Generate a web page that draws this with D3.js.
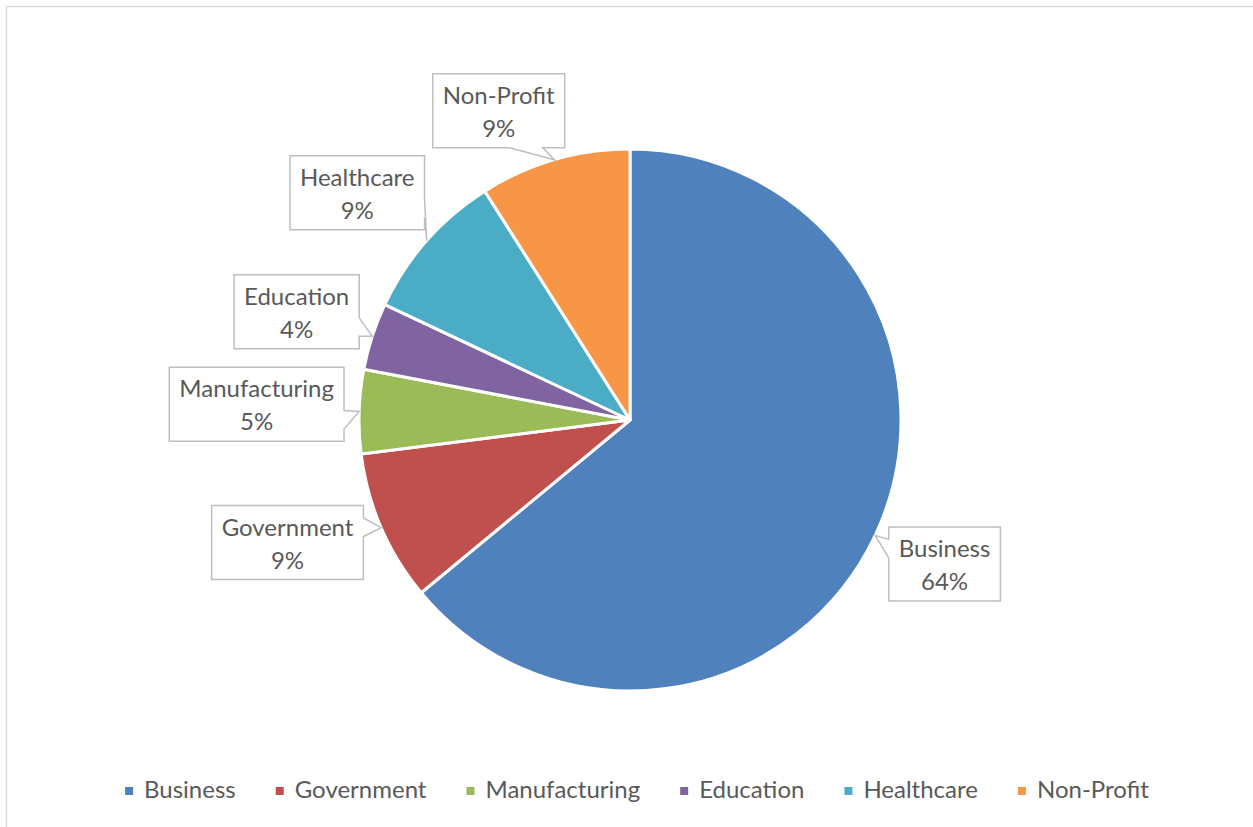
<!DOCTYPE html>
<html>
<head>
<meta charset="utf-8">
<script src="https://cdn.jsdelivr.net/npm/d3@7"></script>
<style>
  html, body { margin: 0; padding: 0; background: #fff; }
  svg { display: block; }
</style>
</head>
<body>
<svg id="chart" width="1253" height="827"></svg>
<script>
// Share of respondents by sector (percent)
const categories = ["Business", "Government", "Manufacturing", "Education", "Healthcare", "Non-Profit"];
const shares = [64, 9, 5, 4, 9, 9];
const sliceColors = ["#4F81BD", "#C0504D", "#9BBB59", "#8064A2", "#4BACC6", "#F79646"];

const W = 1253, H = 827;
const cx = 630, cy = 420, radius = 271;
const textColor = "#595959";
const fontFamily = "Lato, 'Open Sans', sans-serif";
const labelFont = 24;
const labelGap = 9;          // clearance between callout box and pie edge
const boxPadX = 10, boxH = 74;
// small per-label adjustments of the callout placement (degrees / px)
const labelNudge = {
  "Non-Profit": { da: -6.8, dr: 0 },
  "Government": { da: 3.7, dr: 0 },
  "Manufacturing": { da: 0.6, dr: 6 },
  "Healthcare": { da: -1.6, dr: 0 },
  "Business": { da: -0.6, dr: 0 }
};

const svg = d3.select("#chart");

// chart area outline
svg.append("rect")
  .attr("x", 6.5).attr("y", 6.5)
  .attr("width", W + 50).attr("height", H + 50)
  .attr("fill", "#fff")
  .attr("stroke", "#D9D9D9")
  .attr("stroke-width", 1.3);

const color = d3.scaleOrdinal().domain(categories).range(sliceColors);

const data = categories.map((c, i) => ({ name: c, value: shares[i] }));
const pie = d3.pie().sort(null).value(d => d.value);
const arcs = pie(data);
const arc = d3.arc().innerRadius(0).outerRadius(radius);

const g = svg.append("g").attr("transform", `translate(${cx},${cy})`);

g.selectAll("path.slice")
  .data(arcs)
  .join("path")
  .attr("class", "slice")
  .attr("d", arc)
  .attr("fill", d => color(d.data.name))
  .attr("stroke", "#fff")
  .attr("stroke-width", 3)
  .attr("stroke-linejoin", "round");

// polar helper: angle measured clockwise from 12 o'clock
const polar = (a, rr) => [rr * Math.sin(a), -rr * Math.cos(a)];

// distance from the pie centre to the nearest point of a box
function boxDist(bx, by, hw, hh) {
  const nx = Math.max(Math.abs(bx) - hw, 0);
  const ny = Math.max(Math.abs(by) - hh, 0);
  return Math.hypot(nx, ny);
}

const labels = svg.append("g").attr("class", "labels");

arcs.forEach(d => {
  const name = d.data.name;
  const mid = (d.startAngle + d.endAngle) / 2;
  const nudge = labelNudge[name] || { da: 0, dr: 0 };
  const a = mid + nudge.da * Math.PI / 180;

  const grp = labels.append("g");
  const t1 = grp.append("text").text(name)
    .attr("font-family", fontFamily).attr("font-size", labelFont)
    .attr("fill", textColor).attr("text-anchor", "middle");
  const t2 = grp.append("text").text(d.data.value + "%")
    .attr("font-family", fontFamily).attr("font-size", labelFont)
    .attr("fill", textColor).attr("text-anchor", "middle");

  const tw = Math.max(t1.node().getComputedTextLength(), t2.node().getComputedTextLength());
  const bw = tw + 2 * boxPadX, bh = boxH;
  const hw = bw / 2, hh = bh / 2;

  // push the box outward along the angle until it clears the pie
  const ux = Math.sin(a), uy = -Math.cos(a);
  let lo = 0, hi = 1000;
  for (let k = 0; k < 60; k++) {
    const m = (lo + hi) / 2;
    if (boxDist(ux * m, uy * m, hw, hh) < radius + labelGap) lo = m; else hi = m;
  }
  const t = hi + nudge.dr;
  const bx = cx + ux * t, by = cy + uy * t;
  const L = bx - hw, R = bx + hw, T = by - hh, B = by + hh;

  // tail tip sits on the slice edge at its mid angle
  const [px, py] = polar(mid, radius);
  const tipX = cx + px, tipY = cy + py;

  // callout outline with a wedge on the side facing the tip
  const dx = tipX - bx, dy = tipY - by;
  const vertical = Math.abs(dy) * bw > Math.abs(dx) * bh * 1.35;
  let path;
  if (vertical) {
    const x1 = dx < 0 ? L + bw * 2 / 12 : L + bw * 7 / 12;
    const x2 = dx < 0 ? L + bw * 5 / 12 : L + bw * 10 / 12;
    if (dy < 0) {
      path = `M${L},${T}L${x1},${T}L${tipX},${tipY}L${x2},${T}L${R},${T}L${R},${B}L${L},${B}Z`;
    } else {
      path = `M${L},${T}L${R},${T}L${R},${B}L${x2},${B}L${tipX},${tipY}L${x1},${B}L${L},${B}Z`;
    }
  } else {
    const y1 = dy < 0 ? T + bh * 2 / 12 : T + bh * 7 / 12;
    const y2 = dy < 0 ? T + bh * 5 / 12 : T + bh * 10 / 12;
    if (dx > 0) {
      path = `M${L},${T}L${R},${T}L${R},${y1}L${tipX},${tipY}L${R},${y2}L${R},${B}L${L},${B}Z`;
    } else {
      path = `M${L},${T}L${R},${T}L${R},${B}L${L},${B}L${L},${y2}L${tipX},${tipY}L${L},${y1}Z`;
    }
  }

  grp.insert("path", "text")
    .attr("d", path)
    .attr("fill", "#fff")
    .attr("stroke", "#BFBFBF")
    .attr("stroke-width", 1.5)
    .attr("stroke-linejoin", "miter");

  t1.attr("x", bx).attr("y", by - 7);
  t2.attr("x", bx).attr("y", by + 26);
});

// legend along the bottom, centred under the plot
const legend = svg.append("g").attr("class", "legend");
const sw = 8, swGap = 11, itemGap = 40, legendY = 791, legendCenter = 637;
const items = categories.map(c => {
  const it = legend.append("g");
  it.append("rect").attr("width", sw).attr("height", sw).attr("fill", color(c));
  const tx = it.append("text").text(c)
    .attr("font-family", fontFamily).attr("font-size", labelFont)
    .attr("fill", textColor);
  return { g: it, text: tx, w: tx.node().getComputedTextLength() };
});
const total = d3.sum(items, d => sw + swGap + d.w) + itemGap * (items.length - 1);
let xPos = legendCenter - total / 2;
items.forEach(d => {
  d.g.attr("transform", `translate(${xPos},${legendY})`);
  d.g.select("rect").attr("x", 0).attr("y", -sw / 2);
  d.text.attr("x", sw + swGap).attr("y", 7);
  xPos += sw + swGap + d.w + itemGap;
});
</script>
</body>
</html>
